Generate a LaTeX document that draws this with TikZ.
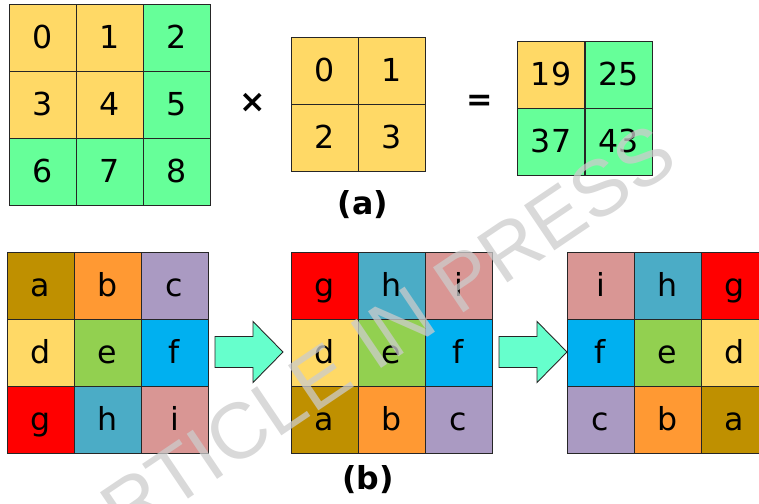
\documentclass[tikz,border=0pt]{standalone}
\usepackage{fontspec}
\setmainfont{DejaVu Sans}
\newfontfamily\stampfont{Liberation Sans}
\usepackage{tikz}
\usetikzlibrary{positioning,calc}

\definecolor{yel}{HTML}{FFD966}
\definecolor{grn}{HTML}{66FF99}
\definecolor{ca}{HTML}{BF9000}
\definecolor{cb}{HTML}{FF9933}
\definecolor{cc}{HTML}{AA9AC2}
\definecolor{cd}{HTML}{FFD966}
\definecolor{ce}{HTML}{92D050}
\definecolor{cf}{HTML}{00B0F0}
\definecolor{cg}{HTML}{FF0000}
\definecolor{ch}{HTML}{4BACC6}
\definecolor{ci}{HTML}{D99694}
\definecolor{arrfill}{HTML}{66FFCC}

\begin{document}
\begin{tikzpicture}[
  x=0.02cm, y=0.02cm,
  cell/.style={draw=black!85, line width=0.5pt, minimum size=1.34cm,
               inner sep=0pt, text height=16pt, text depth=3.6pt,
               font=\fontsize{18}{20}\selectfont},
  op/.style={font=\fontsize{18}{20}\selectfont\bfseries, inner sep=0pt},
  sublbl/.style={font=\fontsize{18}{20}\selectfont\bfseries, inner sep=0pt},
  fatarrow/.style={draw=black!85, line width=0.5pt, fill=arrfill},
  wmark/.style={font=\stampfont\fontsize{45}{50}\selectfont, text=black!20,
                opacity=0.75, inner sep=0pt},
]
  \useasboundingbox (0,0) rectangle (759,-503);
  \clip (0,0) rectangle (759,-503);

  % (a) input 3x3
  \foreach \lbl/\clr [count=\k from 0] in
      {0/yel,1/yel,2/grn,3/yel,4/yel,5/grn,6/grn,7/grn,8/grn}{
    \pgfmathtruncatemacro\row{floor(\k/3)}
    \pgfmathtruncatemacro\colm{mod(\k,3)}
    \node[cell, fill=\clr] (in-\k) at (42.5+67*\colm, -37.5-67*\row) {\lbl};
  }
  \node[op] (times) at (253,-103) {×};

  % (a) kernel 2x2
  \foreach \lbl [count=\k from 0] in {0,1,2,3}{
    \pgfmathtruncatemacro\row{floor(\k/2)}
    \pgfmathtruncatemacro\colm{mod(\k,2)}
    \node[cell, fill=yel] (ker-\k) at (324.5+67*\colm, -70.5-67*\row) {\lbl};
  }
  \node[op] (equals) at (480,-103) {=};

  % (a) result 2x2
  \foreach \lbl/\clr [count=\k from 0] in {19/yel,25/grn,37/grn,43/grn}{
    \pgfmathtruncatemacro\row{floor(\k/2)}
    \pgfmathtruncatemacro\colm{mod(\k,2)}
    \node[cell, fill=\clr] (res-\k) at (551+67.5*\colm, -74.5-67*\row) {\lbl};
  }
  \node[sublbl] (capa) at (363,-205) {(a)};

  % (b) three grids
  \foreach \grid/\xo/\letters in {orig/7/{a,b,c,d,e,f,g,h,i},
                                  flipv/291/{g,h,i,d,e,f,a,b,c},
                                  fliph/567/{i,h,g,f,e,d,c,b,a}}{
    \foreach \lbl [count=\k from 0] in \letters{
      \pgfmathtruncatemacro\row{floor(\k/3)}
      \pgfmathtruncatemacro\colm{mod(\k,3)}
      \node[cell, fill=c\lbl] (\grid-\k) at (\xo+33.5+67*\colm, -285.5-67*\row) {\lbl};
    }
  }

  % block arrows between grids
  \foreach \tx in {283,567}{
    \draw[fatarrow] (\tx-68,-336.5) -- (\tx-30,-336.5) -- (\tx-30,-321.5)
      -- (\tx,-352) -- (\tx-30,-382.5) -- (\tx-30,-367.5) -- (\tx-68,-367.5) -- cycle;
  }
  \node[sublbl] (capb) at (368,-480) {(b)};

  % watermark
  \node[wmark, rotate=34] (stamp) at (366,-346) {ARTICLE IN PRESS};
\end{tikzpicture}
\end{document}
